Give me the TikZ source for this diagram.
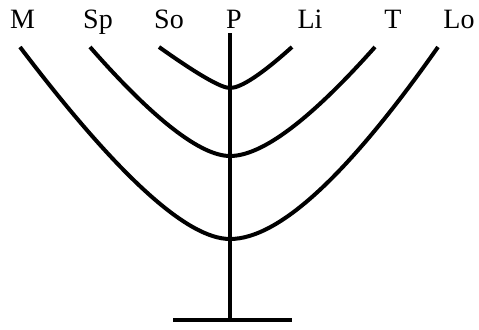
\documentclass[tikz,border=0pt]{standalone}
\usepackage{fontspec}
\setmainfont{Liberation Serif}
\begin{document}
\begin{tikzpicture}[x=0.75pt,y=-0.75pt,line join=round,
  branch/.style={line width=3pt},
  lbl/.style={anchor=base,inner sep=0pt,font=\fontsize{21}{25}\selectfont}]
  \useasboundingbox (0,0) rectangle (479,329);
  % labels
  \node[lbl] (M) at (22.5,28) {M};
  \node[lbl] (Sp) at (98,28) {Sp};
  \node[lbl] (So) at (169,28) {So};
  \node[lbl] (P) at (234,28) {P};
  \node[lbl] (Li) at (310,28) {Li};
  \node[lbl] (T) at (393,28) {T};
  \node[lbl] (Lo) at (459,28) {Lo};
  % free ends and low points of the branches
  \coordinate (mEnd) at (20,47);
  \coordinate (spEnd) at (90,47);
  \coordinate (soEnd) at (159,47);
  \coordinate (liEnd) at (292,47);
  \coordinate (tEnd) at (375,47);
  \coordinate (loEnd) at (438,47);
  \coordinate (top) at (230,33);
  \coordinate (innerLow) at (230,88);
  \coordinate (midLow) at (230,156);
  \coordinate (outerLow) at (230,239);
  \coordinate (foot) at (230,320);
  \coordinate (footL) at (173,320);
  \coordinate (footR) at (292,320);
  % trunk and foot
  \draw[branch] (top) -- (foot);
  \draw[branch] (footL) -- (footR);
  % branches
  \draw[branch] (soEnd) .. controls (197,74) and (221,88) .. (innerLow)
    .. controls (241,88) and (262,74) .. (liEnd);
  \draw[branch] (spEnd) .. controls (154,120) and (201,156) .. (midLow)
    .. controls (262,156) and (310,120) .. (tEnd);
  \draw[branch] (mEnd) .. controls (117,175) and (187,239) .. (outerLow)
    .. controls (279,239) and (348,175) .. (loEnd);
\end{tikzpicture}
\end{document}
